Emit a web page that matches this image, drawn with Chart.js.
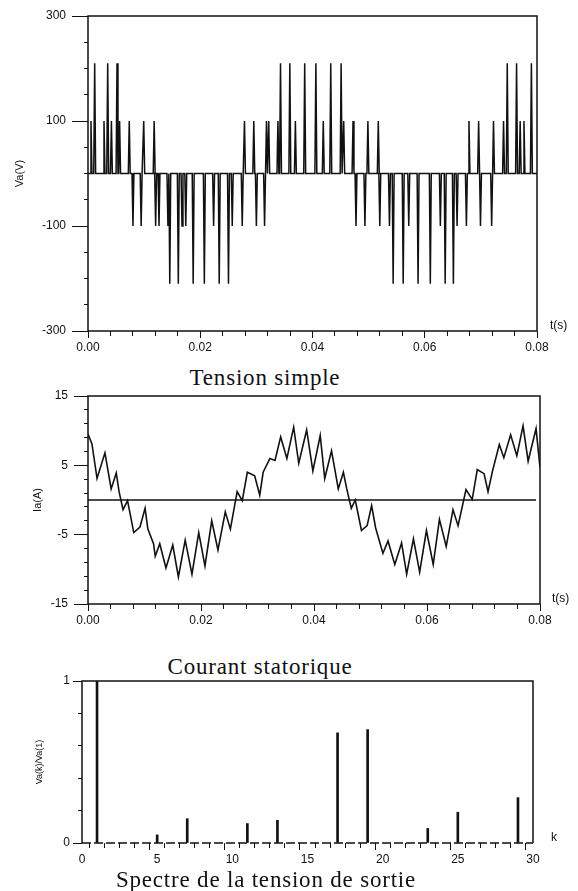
<!DOCTYPE html>
<html>
<head>
<meta charset="utf-8">
<script src="https://cdn.jsdelivr.net/npm/chart.js@4.4.0/dist/chart.umd.min.js"></script>
<style>
body { margin: 0; background: #fff; width: 578px; height: 891px; position: relative; overflow: hidden; }
canvas { position: absolute; left: 0; }
.cap { position: absolute; font-family: "Liberation Serif", serif; font-size: 23px; letter-spacing: 0.8px; line-height: 1; color: #111; white-space: nowrap; transform: translateX(-50%); }
</style>
</head>
<body>
<canvas id="c1" width="578" height="362" style="top:0"></canvas>
<div class="cap" style="left:265px;top:366px">Tension simple</div>
<canvas id="c2" width="578" height="250" style="top:380px"></canvas>
<div class="cap" style="left:260px;top:655px">Courant statorique</div>
<canvas id="c3" width="578" height="211" style="top:660px"></canvas>
<div class="cap" style="left:266px;top:868px">Spectre de la tension de sortie</div>
<script>
// phase voltage: pulse instants (ms) and peak levels (V)
var pulseMs = [0.53, 1.19, 2.85, 3.51, 4.17, 5.17, 5.63, 7.35, 8.01, 9.47, 9.93, 11.79, 12.05,
  12.65, 14.24, 14.57, 16.09, 16.75, 17.42, 18.74, 20.73, 22.38, 23.38, 25.03, 25.70, 27.48, 27.88,
  29.54, 30.00, 31.46, 31.80, 32.20, 33.84, 34.30, 35.96, 36.95, 38.61, 40.60, 41.92, 43.25, 45.10,
  45.56, 47.22, 47.75, 49.34, 49.87, 51.72, 51.99, 53.71, 54.37, 56.16, 57.15, 58.81, 60.99, 62.78,
  63.64, 65.10, 65.76, 67.42, 67.88, 69.60, 69.93, 71.92, 72.25, 74.04, 74.70, 76.36, 77.00, 77.68, 79.00];
var pulseV = [100, 210, 100, 210, 100, 210, 100, 100, -100, -100, 100, 100, -100,
  -100, -100, -210, -210, -100, -100, -210, -210, -100, -210, -210, -100, -100, 100,
  100, -100, -100, 100, 100, 100, 210, 210, 100, 210, 210, 100, 210, 210,
  100, 100, -100, -100, 100, 100, -100, -100, -210, -210, -100, -210, -210, -100,
  -210, -210, -100, -100, 100, 100, -100, -100, 100, 100, 210, 210, 100, 100, 210];

// stator current (ms, A)
var iaMs = [0, 0.7, 1.6, 3.0, 4.1, 5.0, 5.5, 6.2, 7.0, 8.1, 9.2, 10.1, 10.6, 11.6, 11.9, 12.7, 13.8, 15.0, 16.0, 17.2,
  18.4, 19.6, 20.7, 21.9, 23.0, 24.3, 25.2, 26.4, 27.3, 28.2, 29.5, 30.4, 31.0, 32.2, 33.1, 34.1, 35.2, 36.4, 37.3, 38.7,
  39.8, 41.1, 41.9, 43.1, 44.3, 45.2, 45.8, 46.6, 47.3, 48.4, 49.4, 50.2, 50.9, 52.2, 53.1, 54.3, 55.5, 56.4, 57.6, 58.7,
  59.9, 61.1, 62.2, 63.4, 64.6, 65.5, 66.9, 68.0, 68.9, 70.1, 70.8, 71.6, 72.8, 73.6, 74.8, 75.9, 77.0, 77.9, 79.3, 80.0];
var iaA = [9.5, 8.1, 3.1, 6.8, 1.6, 3.9, 1.2, -1.4, -0.1, -4.7, -3.9, -1.2, -4.2, -6.3, -8.1, -6.3, -9.8, -6.5, -11.1, -5.8,
  -10.7, -4.7, -9.5, -3.0, -7.2, -1.7, -4.2, 1.2, -0.1, 4.0, 3.5, 0.7, 4.0, 6.0, 5.7, 9.1, 6.0, 10.5, 5.3, 10.1,
  4.2, 9.3, 3.1, 7.1, 1.6, 4.0, 1.6, -1.2, 0, -4.4, -3.7, -0.8, -4.0, -7.7, -5.9, -9.3, -6.2, -10.7, -5.6, -10.4,
  -4.4, -9.3, -2.8, -6.7, -1.4, -3.7, 1.5, 0.1, 4.4, 3.8, 1.2, 4.2, 8.0, 6.1, 9.4, 6.4, 10.7, 5.6, 10.3, 4.7];

// harmonic spectrum Va(k)/Va(1)
var harmK = [1, 5, 7, 11, 13, 17, 19, 23, 25, 29];
var harmV = [1.0, 0.05, 0.15, 0.12, 0.14, 0.68, 0.70, 0.09, 0.19, 0.28];

var ink = '#111';
var tickFont = { family: '"Liberation Sans", Arial, sans-serif', size: 12 };

function tickList(min, max, step) {
  var out = [];
  var n = Math.round((max - min) / step);
  for (var i = 0; i <= n; i++) out.push({ value: +(min + i * step).toFixed(6) });
  return out;
}
function isMult(v, step) {
  return Math.abs(v / step - Math.round(v / step)) < 1e-6;
}

// box around the plot + unit label at the right end of the x axis
var frame = {
  id: 'frame',
  afterDatasetsDraw: function(chart, args, opts) {
    var a = chart.chartArea, ctx = chart.ctx;
    ctx.save();
    ctx.strokeStyle = ink;
    ctx.lineWidth = 1.5;
    ctx.beginPath();
    ctx.moveTo(a.left, a.bottom);
    ctx.lineTo(a.left, a.top);
    ctx.lineTo(a.right, a.top);
    ctx.lineTo(a.right, a.bottom);
    ctx.stroke();
    if (opts.dashBottom) ctx.setLineDash([9, 3]);
    ctx.beginPath();
    ctx.moveTo(a.left, a.bottom);
    ctx.lineTo(a.right, a.bottom);
    ctx.stroke();
    ctx.setLineDash([]);
    if (opts.zero) {
      var y0 = chart.scales.y.getPixelForValue(0);
      ctx.lineWidth = 1.3;
      ctx.beginPath();
      ctx.moveTo(a.left, y0);
      ctx.lineTo(a.right - 4, y0);
      ctx.stroke();
    }
    ctx.fillStyle = ink;
    ctx.font = '12px "Liberation Sans", Arial, sans-serif';
    ctx.textBaseline = 'middle';
    ctx.fillText(opts.unit, a.right + opts.unitDx, a.bottom - 5);
    ctx.restore();
  }
};

function xAxis(min, max, step, labelStep, digits, h) {
  var major = function(v) { return isMult(v, labelStep); };
  return {
    type: 'linear', min: min, max: max,
    afterBuildTicks: function(s) { s.ticks = tickList(min, max, step); },
    afterFit: function(s) { s.height = h; },
    ticks: {
      autoSkip: false, maxRotation: 0, padding: 2, color: ink, font: tickFont,
      callback: function(v) { return major(v) ? v.toFixed(digits) : ''; }
    },
    // bottom ticks are stroked from the axis outward: keep 5px for minor ones
    grid: { drawOnChartArea: false, drawTicks: true, tickLength: 7, color: ink,
      tickBorderDash: function(c) { return (c.tick && major(c.tick.value)) ? [] : [5, 60]; } },
    border: { display: false }
  };
}
function yAxis(min, max, step, major, tl, pad, w, title, titlePad, titleSize) {
  return {
    min: min, max: max,
    afterBuildTicks: function(s) { s.ticks = tickList(min, max, step); },
    afterFit: function(s) { s.width = w; },
    ticks: { autoSkip: false, padding: pad, color: ink, font: tickFont,
      callback: function(v) { return major(v) ? String(v) : ''; } },
    // left ticks are stroked toward the axis: skip the outer part for minor ones
    grid: { drawOnChartArea: false, drawTicks: true, tickLength: tl, color: ink,
      tickBorderDash: function(c) { return (c.tick && major(c.tick.value)) ? [] : [0, tl - 4, 4, 60]; } },
    border: { display: false },
    title: { display: true, text: title, color: ink, padding: { top: titlePad, bottom: 0 },
      font: { family: '"Liberation Sans", Arial, sans-serif', size: titleSize } }
  };
}

var vaPts = [{ x: 0, y: 0 }];
for (var i = 0; i < pulseMs.length; i++) {
  var t = pulseMs[i] / 1000;
  vaPts.push({ x: t - 0.00017, y: 0 }, { x: t, y: pulseV[i] }, { x: t + 0.00017, y: 0 });
}
vaPts.push({ x: 0.08, y: 0 });

var iaPts = iaMs.map(function(t, i) { return { x: t / 1000, y: iaA[i] }; });
var specPts = harmK.map(function(k, i) { return { x: k, y: harmV[i] }; });

new Chart(document.getElementById('c1'), {
  type: 'line',
  data: { datasets: [{ data: vaPts, borderColor: ink, borderWidth: 1.5, pointRadius: 0, tension: 0 }] },
  options: {
    responsive: false, animation: false,
    layout: { padding: { top: 16, right: 41, bottom: 0, left: 0 } },
    plugins: { legend: { display: false }, tooltip: { enabled: false }, frame: { unit: 't(s)', unitDx: 13 } },
    scales: {
      x: xAxis(0, 0.08, 0.004, 0.02, 2, 31),
      y: yAxis(-300, 300, 50, function(v) { return isMult(v + 300, 200); }, 16, 6, 88, 'Va(V)', 13, 11)
    }
  },
  plugins: [frame]
});

new Chart(document.getElementById('c2'), {
  type: 'line',
  data: { datasets: [{ data: iaPts, borderColor: ink, borderWidth: 1.6, pointRadius: 0, tension: 0 }] },
  options: {
    responsive: false, animation: false,
    layout: { padding: { top: 16, right: 38, bottom: 0, left: 0 } },
    plugins: { legend: { display: false }, tooltip: { enabled: false }, frame: { unit: 't(s)', unitDx: 12, zero: true } },
    scales: {
      x: xAxis(0, 0.08, 0.004, 0.02, 2, 26),
      y: yAxis(-15, 15, 2, function(v) { return isMult(v + 15, 10); }, 14, 6, 88, 'Ia(A)', 31, 11)
    }
  },
  plugins: [frame]
});

new Chart(document.getElementById('c3'), {
  type: 'bar',
  data: { datasets: [{ data: specPts, backgroundColor: ink, barThickness: 2 }] },
  options: {
    responsive: false, animation: false,
    layout: { padding: { top: 21, right: 45, bottom: 0, left: 0 } },
    plugins: { legend: { display: false }, tooltip: { enabled: false }, frame: { unit: 'k', unitDx: 18, dashBottom: true } },
    scales: {
      x: Object.assign(xAxis(0, 30, 1, 5, 0, 28), { offset: false }),
      y: yAxis(0, 1, 0.2, function(v) { return isMult(v, 1); }, 9, 3, 82, 'Va(k)/Va(1)', 34, 9)
    }
  },
  plugins: [frame]
});
</script>
</body>
</html>
